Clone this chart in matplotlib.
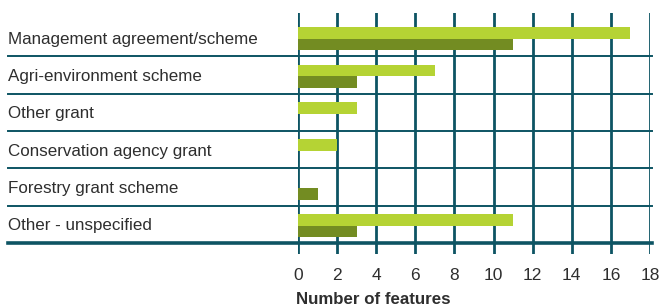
import matplotlib.pyplot as plt
import matplotlib.transforms as mtransforms

categories = ["Management agreement/scheme", "Agri-environment scheme", "Other grant",
              "Conservation agency grant", "Forestry grant scheme", "Other - unspecified"]
light_vals = [17, 7, 3, 2, 0, 11]
dark_vals = [11, 3, 0, 0, 1, 3]
xticks = list(range(0, 19, 2))

light_col = '#b5d334'
dark_col = '#738c22'
line_col = '#0d5463'
text_col = '#2e2e2e'

plt.rcParams['font.family'] = ['Liberation Sans', 'DejaVu Sans']

fig = plt.figure(figsize=(6.62, 3.08), dpi=100)
ax = fig.add_axes([298 / 662, 54 / 308, 352 / 662, 241 / 308])

y = list(range(len(categories)))
h = 0.31
ax.barh([i - h / 2 + 0.03 for i in y], light_vals, height=h, color=light_col, zorder=3)
ax.barh([i + h / 2 + 0.03 for i in y], dark_vals, height=h, color=dark_col, zorder=3)

ax.set_xlim(0, 18)
ax.set_ylim(5.79, -0.66)

# vertical grid
for t in xticks:
    ax.axvline(t, color=line_col, lw=2.0, zorder=2)

# horizontal separators running under the labels
blend = mtransforms.blended_transform_factory(fig.transFigure, ax.transData)
for i in range(len(categories)):
    lw = 2.6 if i == len(categories) - 1 else 1.4
    ax.plot([8 / 662, 652 / 662], [i + 0.5, i + 0.5], color=line_col, lw=lw,
            transform=blend, clip_on=False, zorder=4)

for i, c in enumerate(categories):
    ax.text(8 / 662, i + 0.04, c, transform=blend, ha='left', va='center',
            fontsize=12.25, color=text_col)

for s in ax.spines.values():
    s.set_visible(False)
ax.set_yticks([])
ax.set_xticks(xticks)
ax.tick_params(axis='x', length=0, pad=10, labelsize=12.5, labelcolor=text_col)

fig.text(296 / 662, 1 - 300 / 308, "Number of features", ha='left', va='center',
         fontsize=12.2, fontweight='bold', color=text_col)

fig.savefig("out.png", dpi=100)
